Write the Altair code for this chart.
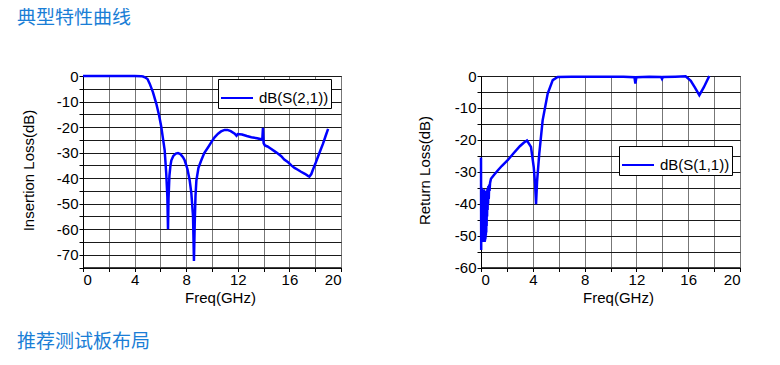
import altair as alt
import pandas as pd

heading_top = ["典型特性曲线"]
heading_bottom = ["推荐测试板布局"]

s21_name = "dB(S(2,1))"
s21_freq = [0, 1, 2, 3, 4, 4.5, 4.65, 4.8, 5.0, 5.17, 5.42, 5.68, 5.9, 6.07, 6.2, 6.33,
            6.45, 6.54, 6.59, 6.63, 6.7, 6.78, 6.85, 7.0, 7.2, 7.36, 7.55, 7.75, 7.88,
            8.1, 8.27, 8.4, 8.53, 8.6, 8.66, 8.72, 8.79, 8.95, 9.17, 9.4, 9.7, 9.95,
            10.2, 10.47, 10.7, 10.98, 11.2, 11.45, 11.76, 11.9, 12.0, 12.33, 12.7, 13.05,
            13.5, 13.9, 13.95, 14.0, 14.1, 14.3, 14.6, 15.0, 15.37, 15.6, 15.9, 16.15,
            16.4, 16.65, 16.9, 17.2, 17.44, 17.55, 17.7, 17.8, 18.0, 18.2, 18.4, 18.6,
            18.8, 19.0]
s21_db = [0, 0, 0, 0, 0, -0.05, -0.2, -0.5, -1.2, -3.0, -6.3, -10.8, -15.5, -20, -24.5, -29,
          -38, -47.4, -60, -48, -39, -35, -33, -31.3, -30.4, -30.2, -30.6, -31.8, -33,
          -36.5, -40.9, -46, -55, -72.4, -58, -47, -40.9, -36, -33, -30.2, -27.9, -25.9,
          -24, -22.6, -21.7, -21.1, -21.1, -21.6, -22.6, -23.4, -22.7, -22.9, -23.5, -24,
          -24.4, -24.9, -20.3, -26.3, -27.2, -27.6, -28.6, -30, -31.4, -32.7, -33.8, -35,
          -36, -36.7, -37.5, -38.3, -39.1, -39.4, -38.4, -37, -34.5, -31.8, -29.2, -26.6,
          -23.6, -20.7]

s11_name = "dB(S(1,1))"
s11_freq = [0.0, 0.015, 0.03, 0.045, 0.06, 0.075, 0.09, 0.105, 0.12, 0.135, 0.15, 0.165,
            0.18, 0.195, 0.21, 0.225, 0.24, 0.255, 0.27, 0.285, 0.3, 0.315, 0.33, 0.345,
            0.36, 0.375, 0.39, 0.405, 0.42, 0.435, 0.45, 0.47, 0.49, 0.51, 0.53, 0.55,
            0.57, 0.6, 0.63, 0.66, 0.7, 0.77, 1.0, 1.29, 1.6, 2.06, 2.5, 3.0, 3.3, 3.55,
            3.86, 4.07, 4.18, 4.25, 4.33, 4.5, 4.76, 5.15, 5.54, 5.92, 7, 9, 11, 11.85,
            11.92, 12.0, 13, 13.9, 13.98, 14.05, 15, 15.8, 16.2, 16.5, 16.86, 17.2, 17.45,
            17.63]
s11_db = [-25.5, -54.5, -36, -52, -35, -51.5, -35.5, -52, -36, -51, -35.5, -52, -36, -51.5,
          -36, -52, -35.5, -51, -36, -52, -36.5, -51.5, -36, -51, -37, -50, -36.5, -49,
          -37, -47, -36, -44, -35.5, -42, -35, -40, -34.5, -38.5, -34, -36, -33.5, -32.2,
          -31, -29.6, -28.2, -26.4, -24.3, -22, -20.9, -20.2, -22.2, -28.5, -34, -40.2,
          -33, -24.3, -13.9, -5.5, -1.3, -0.3, -0.2, -0.2, -0.2, -0.4, -2.4, -0.4, -0.2,
          -0.3, -0.9, -0.3, -0.2, -0.1, -1.5, -3.5, -6.0, -3.6, -1.5, 0.0]

x_grid = list(range(0, 21, 2))
ins_grid = list(range(-75, 1, 5))
ret_grid = list(range(-60, 1, 5))

FONT = "Liberation Sans"
HEAD_COLOR = "#1a7ed6"


def panel(freq, db, name, ytitle, ydomain, ygrid, legend_x, legend_y, title_x, width):
    df = pd.DataFrame({"freq": freq, "db": db, "series": name})
    return alt.Chart(df).mark_line(strokeWidth=2.5).encode(
        x=alt.X("freq:Q",
                scale=alt.Scale(domain=[0, 20], nice=False, zero=False),
                axis=alt.Axis(values=x_grid,
                              labelExpr="datum.value % 4 == 0 ? '' + datum.value : ''",
                              title="Freq(GHz)", titleX=137, titleY=35,
                              titleBaseline="alphabetic", titleAlign="center",
                              gridColor="#777777")),
        y=alt.Y("db:Q",
                scale=alt.Scale(domain=ydomain, nice=False, zero=False),
                axis=alt.Axis(values=ygrid,
                              labelExpr="datum.value % 10 == 0 ? '' + datum.value : ''",
                              title=ytitle, titleX=title_x, titleY=94, titleAngle=270,
                              titleBaseline="middle", titleAlign="center",
                              gridColor="#1a1a1a")),
        color=alt.Color("series:N", scale=alt.Scale(range=["#0000ff"]),
                        legend=alt.Legend(title=None, orient="none",
                                          legendX=legend_x, legendY=legend_y,
                                          symbolType="stroke", symbolSize=1024,
                                          symbolStrokeWidth=2, labelFont=FONT,
                                          labelFontSize=15, labelColor="black",
                                          labelOffset=5, padding=2,
                                          strokeColor="black", fillColor="white",
                                          cornerRadius=0, labelLimit=300)),
    ).properties(width=width, height=191.5)


left_line = panel(s21_freq, s21_db, s21_name, "Insertion Loss(dB)", [-75, 0], ins_grid,
                  135, 3, -55, 258)
right_line = panel(s11_freq, s11_db, s11_name, "Return Loss(dB)", [-60, 0], ret_grid,
                   138, 70, -57, 259)

top_text = alt.Chart(pd.DataFrame({"t": heading_top})).mark_text(
    align="left", baseline="top", font="Noto Sans CJK SC", fontSize=19, color=HEAD_COLOR
).encode(x=alt.value(-66), y=alt.value(-67), text="t:N")

bottom_text = alt.Chart(pd.DataFrame({"t": heading_bottom})).mark_text(
    align="left", baseline="top", font="Noto Sans CJK SC", fontSize=19, color=HEAD_COLOR
).encode(x=alt.value(-66), y=alt.value(257), text="t:N")

left = alt.layer(left_line, top_text, bottom_text)
right = right_line

chart = alt.hconcat(left, right, spacing=140, bounds="flush").resolve_scale(
    color="independent"
).resolve_legend(color="independent").properties(
    padding={"left": 8, "top": 0, "right": 5, "bottom": 5},
    background="white",
).configure_view(stroke="black", strokeWidth=1).configure_axis(
    labelFont=FONT, labelFontSize=15, labelColor="black",
    titleFont=FONT, titleFontSize=15, titleColor="black", titleFontWeight="normal",
    domainColor="black", domainWidth=1, tickColor="black", tickSize=4,
    labelPadding=1, gridWidth=1, gridOpacity=1
)

chart.save("out.html", embed_options={"renderer": "svg", "actions": False})
